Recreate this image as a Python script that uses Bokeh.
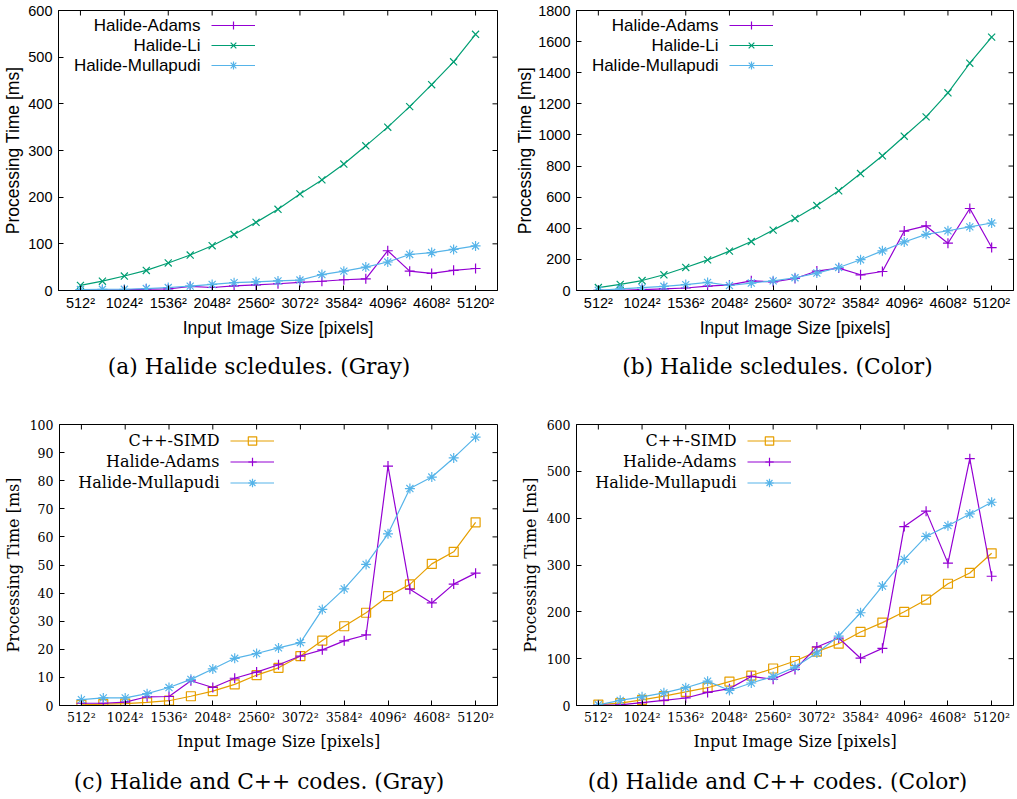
from bokeh.plotting import figure
from bokeh.layouts import column, row
from bokeh.models import FixedTicker, Legend, LegendItem, Label, Range1d, Div
from bokeh.embed import file_html
from bokeh.resources import INLINE

# ---------------- data ----------------
sizes = [512, 768, 1024, 1280, 1536, 1792, 2048, 2304, 2560, 2816,
         3072, 3328, 3584, 3840, 4096, 4352, 4608, 4864, 5120]
x_tick_values = [512, 1024, 1536, 2048, 2560, 3072, 3584, 4096, 4608, 5120]
x_tick_labels = ["512²", "1024²", "1536²", "2048²", "2560²",
                 "3072²", "3584²", "4096²", "4608²", "5120²"]

gray_li = [11, 20, 31, 43, 59, 76, 96, 120, 146, 174,
           207, 237, 271, 310, 350, 394, 441, 490, 549]
gray_adams = [0.8, 0.8, 1.2, 3.1, 3.2, 8.8, 6.4, 9.7, 11.9, 14.5,
              17.6, 19.8, 23.0, 25.1, 85.2, 41.4, 36.5, 43.2, 47.1]
gray_mullapudi = [2.1, 2.7, 2.7, 4.2, 6.4, 9.3, 13.0, 16.8, 18.5, 20.5,
                  22.4, 34.2, 41.5, 50.2, 61.1, 77.2, 81.3, 88.1, 95.5]
gray_simd = [0.2, 0.5, 0.7, 1.1, 1.7, 3.3, 5.1, 7.5, 10.8, 13.4,
             17.6, 23.1, 28.2, 33.0, 38.9, 43.1, 50.4, 54.7, 65.2]

color_li = [19, 39, 64, 101, 148, 197, 253, 315, 388, 463,
            546, 641, 752, 866, 992, 1116, 1271, 1461, 1629]
color_adams = [1, 1.5, 6, 11, 16, 28, 36, 62, 56, 77,
               125, 144, 101, 122, 382, 415, 304, 527, 276]
color_mullapudi = [1.5, 11, 18.5, 27, 38, 52, 32, 48, 62, 82,
                   112, 148, 198, 255, 312, 361, 384, 409, 434]
color_simd = [2, 5, 12, 20, 29, 38, 51, 64, 79, 95,
              115, 132, 157, 177, 200, 226, 260, 283, 325]

x_title = "Input Image Size [pixels]"
y_title = "Processing Time [ms]"
captions = ["(a) Halide scledules. (Gray)", "(b) Halide scledules. (Color)",
            "(c) Halide and C++ codes. (Gray)", "(d) Halide and C++ codes. (Color)"]

# ---------------- styles ----------------
STYLE = {
    "C++-SIMD": dict(color="#e69f00", marker="square", size=9),
    "Halide-Adams": dict(color="#9400d3", marker="cross", size=10),
    "Halide-Li": dict(color="#009e73", marker="x", size=10),
    "Halide-Mullapudi": dict(color="#56b4e9", marker="asterisk", size=10),
}

SANS = dict(font="Liberation Sans", tick="14.5px", label="17.5px", legend="17px")
SERIF = dict(font="DejaVu Serif", tick="12.5px", label="16px", legend="16px")
CAPTION_STYLE = {"font-family": "DejaVu Serif", "font-size": "21.75px",
                 "line-height": "26px", "color": "black", "text-align": "center",
                 "white-space": "nowrap", "width": "100%"}
X_LO, X_HI = 256, 5376
TICK_PX = 5


def make_panel(series, y_max, y_step, fonts, width, height, border, frame_w, frame_h,
               legend_geo, ylab_standoff):
    bl, br, bt, bb = border
    p = figure(width=width, height=height, output_backend="svg",
               toolbar_location=None, title=None,
               x_range=Range1d(X_LO, X_HI), y_range=Range1d(0, y_max),
               min_border_left=bl, min_border_right=br,
               min_border_top=bt, min_border_bottom=bb)
    p.grid.visible = False
    p.outline_line_color = "black"
    p.outline_line_width = 1
    p.background_fill_color = "white"
    p.border_fill_color = "white"

    y_ticks = list(range(0, y_max + 1, y_step))

    xa = p.xaxis[0]
    xa.ticker = FixedTicker(ticks=x_tick_values)
    xa.major_label_overrides = {v: t for v, t in zip(x_tick_values, x_tick_labels)}
    ya = p.yaxis[0]
    ya.ticker = FixedTicker(ticks=y_ticks)
    for ax in (xa, ya):
        ax.major_tick_in = TICK_PX
        ax.major_tick_out = 0
        ax.minor_tick_in = 0
        ax.minor_tick_out = 0
        ax.axis_line_color = "black"
        ax.major_tick_line_color = "black"
        ax.major_label_text_font = fonts["font"]
        ax.major_label_text_font_size = fonts["tick"]
        ax.major_label_text_color = "black"
        ax.axis_label_text_font = fonts["font"]
        ax.axis_label_text_font_size = fonts["label"]
        ax.axis_label_text_font_style = "normal"
        ax.axis_label_text_color = "black"
    xa.axis_label = x_title
    ya.axis_label = y_title
    xa.major_label_standoff = 4
    xa.axis_label_standoff = 4
    ya.major_label_standoff = 6
    ya.axis_label_standoff = ylab_standoff

    # mirrored inward ticks on the top and right border (gnuplot "mirror")
    dx = TICK_PX * (X_HI - X_LO) / frame_w
    dy = TICK_PX * y_max / frame_h
    p.segment(x0=[X_HI] * len(y_ticks), y0=y_ticks,
              x1=[X_HI - dx] * len(y_ticks), y1=y_ticks,
              line_color="black", line_width=1)
    p.segment(x0=x_tick_values, y0=[y_max] * len(x_tick_values),
              x1=x_tick_values, y1=[y_max - dy] * len(x_tick_values),
              line_color="black", line_width=1)

    items = []
    for name, vals in series:
        st = STYLE[name]
        lr = p.line(sizes, vals, line_color=st["color"], line_width=1.2)
        sr = p.scatter(sizes, vals, marker=st["marker"], size=st["size"],
                       line_color=st["color"], fill_color=None, line_width=1.2)
        items.append((name, lr, sr))

    # gnuplot-style key: label right-aligned, sample on the right
    gx, tx, first, rh = legend_geo
    top_off = first - rh / 2.0
    legend = Legend(
        items=[LegendItem(label=" ", renderers=[it[1], it[2]]) for it in items],
        location=(gx, int(round(frame_h - top_off - rh * len(items)))),
        glyph_width=44, glyph_height=rh, label_height=rh, label_width=0,
        label_standoff=0, label_text_font_size="1px", padding=0, spacing=0,
        margin=0, border_line_alpha=0, background_fill_alpha=0)
    p.add_layout(legend)
    for i, (name, _, _) in enumerate(items):
        p.add_layout(Label(x=tx, y=frame_h - first - i * rh, x_units="screen",
                           y_units="screen", text=name, text_align="right",
                           text_baseline="middle", text_font=fonts["font"],
                           text_font_size=fonts["legend"], text_color="black"))
    return p


def caption_div(text, width, m_top, m_bottom, m_left):
    return Div(text=text, width=width, height=26, styles=CAPTION_STYLE,
               margin=(m_top, 0, m_bottom, m_left))


W1, W2 = 512, 505
# row 1: figures 0..340, caption centred at y = 367, row ends at 400
# row 2: figures 400..755, caption centred at y = 782, row ends at 799
H1, H2 = 340, 355
B1 = (58, 15)
B2 = (64, 4)
R1 = (10, 50)
R2 = (24, 50)
FW1 = W1 - B1[0] - B1[1]
FW2 = W2 - B2[0] - B2[1]
FH1 = H1 - R1[0] - R1[1]
FH2 = H2 - R2[0] - R2[1]

pa = make_panel([("Halide-Adams", gray_adams), ("Halide-Li", gray_li),
                 ("Halide-Mullapudi", gray_mullapudi)],
                600, 100, SANS, W1, H1, B1 + R1, FW1, FH1, (153, 142, 15, 20), 2)
pb = make_panel([("Halide-Adams", color_adams), ("Halide-Li", color_li),
                 ("Halide-Mullapudi", color_mullapudi)],
                1800, 200, SANS, W2, H1, B2 + R1, FW2, FH1, (153, 142, 15, 20), 0)
pc = make_panel([("C++-SIMD", gray_simd), ("Halide-Adams", gray_adams),
                 ("Halide-Mullapudi", gray_mullapudi)],
                100, 10, SERIF, W1, H2, B1 + R2, FW1, FH2, (171, 160, 16, 21), 4)
pd = make_panel([("C++-SIMD", color_simd), ("Halide-Adams", color_adams),
                 ("Halide-Mullapudi", color_mullapudi)],
                600, 100, SERIF, W2, H2, B2 + R2, FW2, FH2, (171, 160, 16, 21), 4)

ca = caption_div(captions[0], 507, 14, 20, 3)
cb = caption_div(captions[1], 481, 14, 20, 13)
cc = caption_div(captions[2], 507, 14, 4, 3)
cd = caption_div(captions[3], 481, 14, 4, 13)

layout = column(row(column(pa, ca), column(pb, cb)),
                row(column(pc, cc), column(pd, cd)))
open("out.html", "w").write(file_html(layout, INLINE))
